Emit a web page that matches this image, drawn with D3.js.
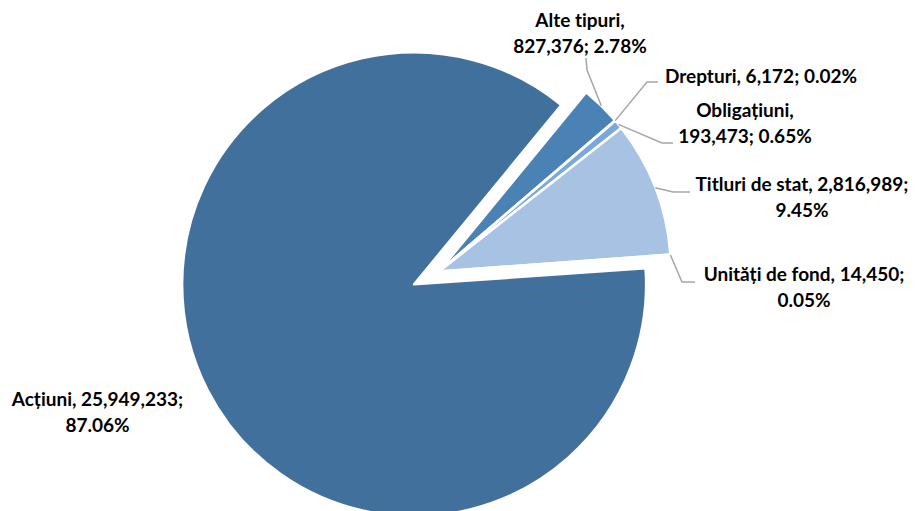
<!DOCTYPE html>
<html>
<head>
<meta charset="utf-8">
<script src="https://cdn.jsdelivr.net/npm/d3@7"></script>
<style>
  html, body { margin: 0; padding: 0; background: #ffffff; }
  svg { display: block; }
  .lbl { font-family: Lato, "Open Sans", sans-serif; font-weight: 700; font-size: 19px; fill: #000;
         font-variant-ligatures: none; font-feature-settings: "liga" 0, "clig" 0; }
</style>
</head>
<body>
<div id="chart"></div>
<script>
// Portfolio structure by instrument type (value; share of total)
const categories = ["Acțiuni", "Alte tipuri", "Drepturi", "Obligațiuni", "Titluri de stat", "Unități de fond"];
const values = [25949233, 827376, 6172, 193473, 2816989, 14450];
const colors = ["#42709C", "#4A82B5", "#6296CF", "#7AA8DC", "#A7C2E3", "#BCD0EA"];

// How each data label wraps: after the name, after the value, or not at all
const labelBreak = ["value", "name", "none", "name", "value", "value"];

// Label placement: text centre x, first baseline, and leader-line path points
const labelLayout = [
  { x: 97.5, y: 406, leader: null },
  { x: 580, y: 27, leader: [[587, 70], [586, 58]] },
  { x: 761, y: 83, leader: [[647, 82], [658, 82]] },
  { x: 745, y: 117, leader: [[662, 143], [673, 143]] },
  { x: 802, y: 191, leader: [[673, 192], [690, 192]] },
  { x: 804, y: 281, leader: [[682, 282], [695, 282]] }
];

const W = 917, H = 511;
const cx = 439, cy = 271.5, R = 232;
const startDeg = 86;
const explode = [28, 0, 0, 0, 0, 0];
const lineStep = 26;

const svg = d3.select("#chart").append("svg")
  .attr("width", W).attr("height", H);

const total = d3.sum(values);
const fmtNum = d3.format(",");
const fmtPct = d3.format(".2%");

const data = categories.map((c, i) => ({ name: c, value: values[i], i }));

const pie = d3.pie()
  .sort(null)
  .value(d => d.value)
  .startAngle(startDeg * Math.PI / 180)
  .endAngle(startDeg * Math.PI / 180 + 2 * Math.PI);

const arcs = pie(data);
const arc = d3.arc().innerRadius(0).outerRadius(R);

const g = svg.append("g").attr("transform", `translate(${cx},${cy})`);

g.selectAll("path.slice")
  .data(arcs)
  .join("path")
  .attr("class", "slice")
  .attr("d", arc)
  .attr("fill", d => colors[d.data.i])
  .attr("stroke", "#ffffff")
  .attr("stroke-width", 2.5)
  .attr("stroke-linejoin", "round")
  .attr("transform", d => {
    const mid = (d.startAngle + d.endAngle) / 2;
    const e = explode[d.data.i];
    return `translate(${e * Math.sin(mid)},${-e * Math.cos(mid)})`;
  });

// Leader lines: from the slice's outer edge at mid-angle to the label
const leaderGen = d3.line();
arcs.forEach(d => {
  const lay = labelLayout[d.data.i];
  if (!lay.leader) return;
  const mid = (d.startAngle + d.endAngle) / 2;
  const e = explode[d.data.i];
  const p0 = [cx + (R + e) * Math.sin(mid), cy - (R + e) * Math.cos(mid)];
  svg.append("path")
    .attr("d", leaderGen([p0, ...lay.leader]))
    .attr("fill", "none")
    .attr("stroke", "#A6A6A6")
    .attr("stroke-width", 1.5);
});

// Data labels: "Name, value; percent"
arcs.forEach(d => {
  const i = d.data.i;
  const lay = labelLayout[i];
  const name = d.data.name + ",";
  const val = fmtNum(d.data.value) + ";";
  const pct = fmtPct(d.data.value / total);
  let lines;
  if (labelBreak[i] === "name") lines = [name, val + " " + pct];
  else if (labelBreak[i] === "value") lines = [name + " " + val, pct];
  else lines = [name + " " + val + " " + pct];
  const t = svg.append("text")
    .attr("class", "lbl")
    .attr("text-anchor", "middle");
  lines.forEach((ln, k) => {
    t.append("tspan")
      .attr("x", lay.x)
      .attr("y", lay.y + k * lineStep)
      .text(ln);
  });
});
</script>
</body>
</html>
